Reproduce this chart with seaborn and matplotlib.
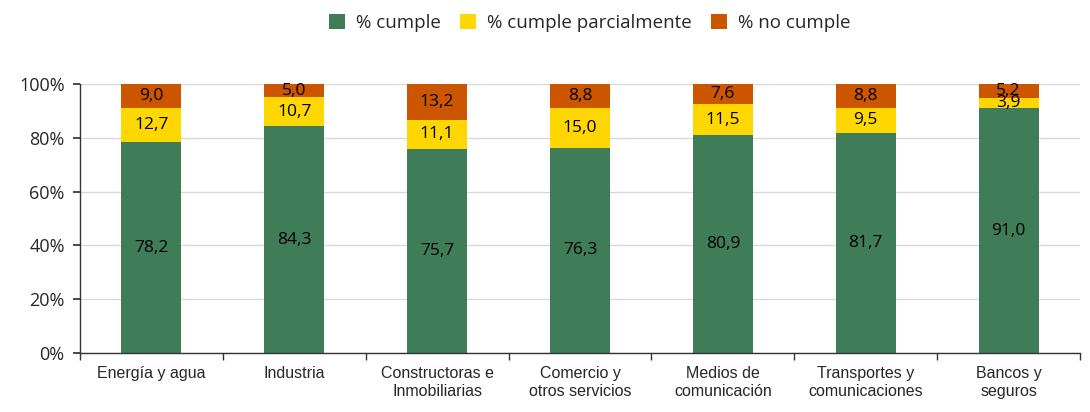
import matplotlib
matplotlib.use("Agg")
import matplotlib.pyplot as plt
import seaborn as sns
import numpy as np
import pandas as pd
from matplotlib.patches import Patch

categories = ["Energía y agua", "Industria", "Constructoras e\nInmobiliarias",
              "Comercio y\notros servicios", "Medios de\ncomunicación",
              "Transportes y\ncomunicaciones", "Bancos y\nseguros"]
cumple = [78.2, 84.3, 75.7, 76.3, 80.9, 81.7, 91.0]
parcial = [12.7, 10.7, 11.1, 15.0, 11.5, 9.5, 3.9]
no_cumple = [9.0, 5.0, 13.2, 8.8, 7.6, 8.8, 5.2]
series_names = ["% cumple", "% cumple parcialmente", "% no cumple"]
colors = ["#3F7D58", "#FFD700", "#CC5500"]

sns.set_theme(style="white")
plt.rcParams['font.family'] = ['Open Sans', 'DejaVu Sans']

c = np.array(cumple); p = np.array(parcial); n = np.array(no_cumple)
tot = c + p + n
s1 = c / tot * 100
s2 = (c + p) / tot * 100
s3 = (c + p + n) / tot * 100
df = pd.DataFrame({"cat": categories, "s1": s1, "s2": s2, "s3": s3})

fig = plt.figure(figsize=(10.9, 4.12), dpi=100)
ax = fig.add_axes([0.0734, 0.1432, 0.9174, 0.6528])

for col, colr in zip(["s3", "s2", "s1"], colors[::-1]):
    sns.barplot(data=df, x="cat", y=col, color=colr, saturation=1, width=0.42,
                ax=ax, edgecolor="none", linewidth=0)

for i in range(len(categories)):
    centers = [s1[i] / 2, (s1[i] + s2[i]) / 2, (s2[i] + s3[i]) / 2]
    vals = [cumple[i], parcial[i], no_cumple[i]]
    for cy, v in zip(centers, vals):
        ax.text(i, cy, f"{v:.1f}".replace(".", ","), ha="center", va="center",
                fontsize=12.5, color="black")

ax.set_ylim(0, 100)
ax.set_xlim(-0.5, len(categories) - 0.5)
ax.set_yticks(np.arange(0, 101, 20))
ax.set_yticklabels([f"{v}%" for v in range(0, 101, 20)], fontsize=13)
ax.set_xticks(np.arange(len(categories)))
ax.set_xticklabels(categories, fontsize=11.5, family=['Liberation Sans', 'DejaVu Sans'],
                   linespacing=1.25)
ax.set_xlabel(""); ax.set_ylabel("")
ax.yaxis.grid(True, color="#D9D9D9", linewidth=1)
ax.set_axisbelow(True)
for s in ["top", "right"]:
    ax.spines[s].set_visible(False)
for s in ["left", "bottom"]:
    ax.spines[s].set_color("#333333")
    ax.spines[s].set_linewidth(1)

# category boundary ticks on x axis
ax.set_xticks(np.arange(-0.5, len(categories), 1), minor=True)
ax.tick_params(axis="x", which="major", length=0, pad=9)
ax.tick_params(axis="x", which="minor", length=5, color="#333333", direction="out", bottom=True)
ax.tick_params(axis="y", which="major", length=5, color="#333333", direction="out", left=True, pad=6)

handles = [Patch(facecolor=col, edgecolor="none") for col in colors]
fig.legend(handles, series_names, loc="center", bbox_to_anchor=(0.541, 0.945), ncol=3,
           frameon=False, fontsize=13.5, handlelength=0.85, handleheight=0.85,
           columnspacing=1.0, handletextpad=0.6)

fig.savefig("out.png", dpi=100)
